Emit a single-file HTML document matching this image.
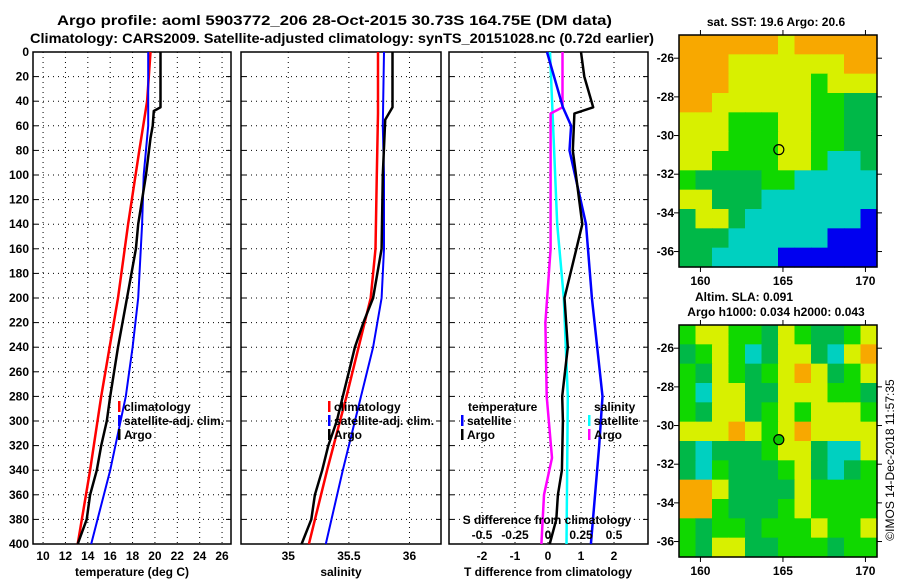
<!DOCTYPE html>
<html><head><meta charset="utf-8"><style>
html,body{margin:0;padding:0;background:#fff;}
svg{display:block;font-family:"Liberation Sans",Arial,sans-serif;font-weight:bold;}
</style></head><body>
<svg id="c" width="900" height="580" viewBox="0 0 900 580" xmlns="http://www.w3.org/2000/svg">
<text x="57" y="25" font-size="14" textLength="555" lengthAdjust="spacingAndGlyphs">Argo profile: aoml 5903772_206 28-Oct-2015 30.73S 164.75E (DM data)</text>
<text x="30" y="43" font-size="14" textLength="624" lengthAdjust="spacingAndGlyphs">Climatology: CARS2009. Satellite-adjusted climatology: synTS_20151028.nc (0.72d earlier)</text>
<text x="776" y="26" text-anchor="middle" font-size="12">sat. SST: 19.6 Argo: 20.6</text>
<text x="744" y="301" text-anchor="middle" font-size="12">Altim. SLA: 0.091</text>
<text x="776" y="316" text-anchor="middle" font-size="12">Argo h1000: 0.034 h2000: 0.043</text>
<text transform="translate(894,460) rotate(-90)" text-anchor="middle" font-size="12" font-weight="normal">©IMOS 14-Dec-2018 11:57:35</text>
<g id="g"></g>
</svg>
<script>
// ---- data ----
const depthTicks=[0,20,40,60,80,100,120,140,160,180,200,220,240,260,280,300,320,340,360,380,400];
const tempTicks=[10,12,14,16,18,20,22,24,26];
const salTicks=[35,35.5,36];
const tdiffTicks=[-2,-1,0,1,2];
const sdiffTicks=[-0.5,-0.25,0,0.25,0.5];
const climTDepth=[0,40,80,140,200,280,340,400];
const climT=[19.6,19.3,18.6,17.6,16.7,15.2,14.2,13.1];
const satTDepth=[0,60,100,140,200,240,280,340,400];
const satT=[19.4,19.4,19.0,18.85,18.5,18.0,17.4,16.0,14.3];
const argoTDepth=[0,45,48,60,70,100,140,160,200,240,280,300,320,340,360,380,400];
const argoT=[20.5,20.5,19.9,19.8,19.6,19.2,18.5,18.3,17.5,16.7,16.0,15.7,15.2,14.8,14.2,13.9,13.1];
const climSDepth=[0,50,100,160,200,240,280,340,400];
const climS=[35.74,35.74,35.73,35.72,35.68,35.58,35.48,35.32,35.17];
const satSDepth=[0,60,100,160,200,240,280,340,400];
const satS=[35.79,35.78,35.79,35.79,35.77,35.70,35.60,35.45,35.31];
const argoSDepth=[0,45,55,100,160,200,220,240,260,280,300,320,340,360,380,400];
const argoS=[35.86,35.86,35.80,35.78,35.77,35.70,35.62,35.55,35.50,35.45,35.40,35.33,35.28,35.22,35.19,35.11];
const satTdDepth=[0,45,60,80,140,200,280,320,400];
const satTd=[-0.03,0.45,0.7,0.65,1.15,1.33,1.65,1.55,1.3];
const argoTdDepth=[0,20,45,50,80,140,160,200,240,280,300,340,360,380,400];
const argoTd=[1.0,1.1,1.37,0.8,0.75,1.04,0.86,0.5,0.6,0.43,0.45,0.42,0.3,0.25,0.05];
const satSdDepth=[0,140,200,280,400];
const satSd=[0.015,0.07,0.12,0.15,0.14];
const argoSdDepth=[0,45,50,80,160,220,280,330,360,400];
const argoSd=[0.11,0.11,0.02,0.02,0.02,-0.02,-0.01,0.03,-0.03,-0.05];
const lonTicks=[160,165,170];
const latTicks=[-26,-28,-30,-32,-34,-36];
const sstRows=["OOOOOOYOOOOO","OOOYYYYYYYOO","OOOYYYYYGYYY","OOYYYYYYGGDD","YYYGGGYYGGDD","YYYGGGYYGGDD","YYGGGGYYGCCD","GDDDDGGCCCCC","YYDDDCCCCCCC","DYYDCCCCCCCB","DDDCCCCCCBBB","DDCCCCBBBBBB"];
const slaRows=["GYYGGDYGDDGY","DGYGCDYYDCYO","GDYGDGYOYDGY","GCYYDDYYYGGD","GDYYDGYGYYYG","YYYOYGYOYYYY","DCDDDGYYDCCY","DCGDDDGYDCDG","OOYDDDDYGGGG","OOGDDDGYGGGG","GDGGDGGGYGGY","GDYYDDGGGDGG"];
const argoPos=[164.75,-30.73];
// ---- drawing ----
const NS="http://www.w3.org/2000/svg";
const g=document.getElementById('g');
function el(t,a,p){const e=document.createElementNS(NS,t);for(const k in a)e.setAttribute(k,a[k]);(p||g).appendChild(e);return e;}
const yTop=52,yBot=544;
const yD=d=>yTop+(yBot-yTop)*d/400;
const panels=[
 {x0:33,x1:231,v0:9.1,v1:26.8,name:'temperature-panel'},
 {x0:241,x1:441,v0:34.61,v1:36.26,name:'salinity-panel'},
 {x0:449,x1:648,v0:-3.0,v1:3.03,name:'tdiff-panel'}];
panels.forEach(p=>{p.sx=v=>p.x0+(v-p.v0)/(p.v1-p.v0)*(p.x1-p.x0);});
const P1=panels[0],P2=panels[1],P3=panels[2];
const sdx=v=>P3.sx(v*4);
function grid(p,ticks){
  const gg=el('g',{});
  
  
  ticks.forEach(t=>el('line',{x1:p.sx(t),x2:p.sx(t),y1:yTop,y2:yBot,stroke:'#000','stroke-width':1,'stroke-dasharray':'1,4'},gg));
  depthTicks.forEach(d=>{if(d>0&&d<400)el('line',{x1:p.x0,x2:p.x1,y1:yD(d),y2:yD(d),stroke:'#000','stroke-width':1,'stroke-dasharray':'1,4'},gg);
    el('line',{x1:p.x0,x2:p.x0+5,y1:yD(d),y2:yD(d),stroke:'#000'},gg);
    el('line',{x1:p.x1-5,x2:p.x1,y1:yD(d),y2:yD(d),stroke:'#000'},gg);});
  const r=el('rect',{x:p.x0,y:yTop,width:p.x1-p.x0,height:yBot-yTop,fill:'none',stroke:'#000','stroke-width':1.5});
  
  
}
grid(P1,tempTicks);grid(P2,salTicks);grid(P3,tdiffTicks);
function line(xs,ds,fx,col,w,name){
  const pts=xs.map((v,i)=>fx(v).toFixed(1)+','+yD(ds[i]).toFixed(1)).join(' ');
  const e=el('polyline',{points:pts,fill:'none',stroke:col,'stroke-width':w,'stroke-linejoin':'round'});
  
  
}
line(climT,climTDepth,P1.sx,'#ff0000',2.5,'climatology-temp-line');
line(satT,satTDepth,P1.sx,'#0000ff',2,'satellite-temp-line');
line(argoT,argoTDepth,P1.sx,'#000',2.5,'argo-temp-line');
line(climS,climSDepth,P2.sx,'#ff0000',2.5,'climatology-sal-line');
line(satS,satSDepth,P2.sx,'#0000ff',2,'satellite-sal-line');
line(argoS,argoSDepth,P2.sx,'#000',2.5,'argo-sal-line');
line(satSd,satSdDepth,sdx,'#00ffff',2.5,'satellite-sdiff-line');
line(argoSd,argoSdDepth,sdx,'#ff00ff',2.5,'argo-sdiff-line');
line(satTd,satTdDepth,P3.sx,'#0000ff',2.5,'satellite-tdiff-line');
line(argoTd,argoTdDepth,P3.sx,'#000',2.5,'argo-tdiff-line');
function txt(x,y,s,anchor,size,name,col){const e=el('text',{x:x,y:y,'text-anchor':anchor,'font-size':size,fill:col||'#000'});e.textContent=s;
  
  return e;}
depthTicks.forEach(d=>txt(29,yD(d)+4,String(d),'end',12,'depth-tick-label'));
tempTicks.forEach(t=>txt(P1.sx(t),560,String(t),'middle',12,'temp-tick-label'));
salTicks.forEach(t=>txt(P2.sx(t),560,String(t),'middle',12,'sal-tick-label'));
tdiffTicks.forEach(t=>txt(P3.sx(t),560,String(t),'middle',12,'tdiff-tick-label'));
sdiffTicks.forEach(t=>txt(sdx(t),539,String(t),'middle',12,'sdiff-tick-label'));
txt(132,576,'temperature (deg C)','middle',12,'temp-axis-title');
txt(341,576,'salinity','middle',12,'sal-axis-title');
txt(548,576,'T difference from climatology','middle',12,'tdiff-axis-title');
txt(547,524,'S difference from climatology','middle',12,'sdiff-axis-title');
function leg(x,y,col,s,name){const m=el('rect',{x:x,y:y-10,width:2.5,height:11,fill:col});
  
  
  txt(x+6,y,s,'start',12,name);}
leg(118,411,'#ff0000','climatology','legend-t-climatology');
leg(118,425,'#0000ff','satellite-adj. clim.','legend-t-satellite');
leg(118,439,'#000','Argo','legend-t-argo');
leg(328,411,'#ff0000','climatology','legend-s-climatology');
leg(328,425,'#0000ff','satellite-adj. clim.','legend-s-satellite');
leg(328,439,'#000','Argo','legend-s-argo');
txt(468,411,'temperature','start',12,'legend-temperature-header');
leg(461,425,'#0000ff','satellite','legend-tdiff-satellite');
leg(461,439,'#000','Argo','legend-tdiff-argo');
txt(594,411,'salinity','start',12,'legend-salinity-header');
leg(588,425,'#00ffff','satellite','legend-sdiff-satellite');
leg(588,439,'#ff00ff','Argo','legend-sdiff-argo');
// maps
const cmap={O:'#f8a800',Y:'#d8f000',G:'#10d800',D:'#00b848',C:'#00d0c0',B:'#0000f0'};
const lon0=158.7,lon1=170.7,lat0=-24.8,lat1=-36.8;
function drawMap(y0,y1,rows,name,fillC){
  const x0=679,x1=877;
  const mx=l=>x0+(l-lon0)/(lon1-lon0)*(x1-x0);
  const my=l=>y0+(l-lat0)/(lat1-lat0)*(y1-y0);
  const mg=el('g',{});
  
  
  const nr=rows.length,nc=rows[0].length,cw=(x1-x0)/nc,ch=(y1-y0)/nr;
  rows.forEach((r,i)=>{for(let j=0;j<nc;j++){el('rect',{x:x0+j*cw,y:y0+i*ch,width:cw+0.6,height:ch+0.6,fill:cmap[r[j]]},mg);}});
  el('rect',{x:x0,y:y0,width:x1-x0,height:y1-y0,fill:'none',stroke:'#000','stroke-width':1.5},mg);
  lonTicks.forEach(l=>{el('line',{x1:mx(l),x2:mx(l),y1:y0-5,y2:y0,stroke:'#000'},mg);el('line',{x1:mx(l),x2:mx(l),y1:y1,y2:y1+5,stroke:'#000'},mg);
    txt(mx(l),y1+18,String(l),'middle',12,name+'-lon-label');});
  latTicks.forEach(l=>{el('line',{x1:x0-5,x2:x0,y1:my(l),y2:my(l),stroke:'#000'},mg);el('line',{x1:x1,x2:x1+5,y1:my(l),y2:my(l),stroke:'#000'},mg);
    txt(x0-5,my(l)+4,String(l),'end',12,name+'-lat-label');});
  const c=el('circle',{cx:mx(argoPos[0]),cy:my(argoPos[1]),r:5,fill:fillC,stroke:'#000','stroke-width':1.2});
  
  
}
drawMap(35,267,sstRows,'sst-map','none');
drawMap(325,557,slaRows,'sla-map','#10c800');
</script>
</body></html>
